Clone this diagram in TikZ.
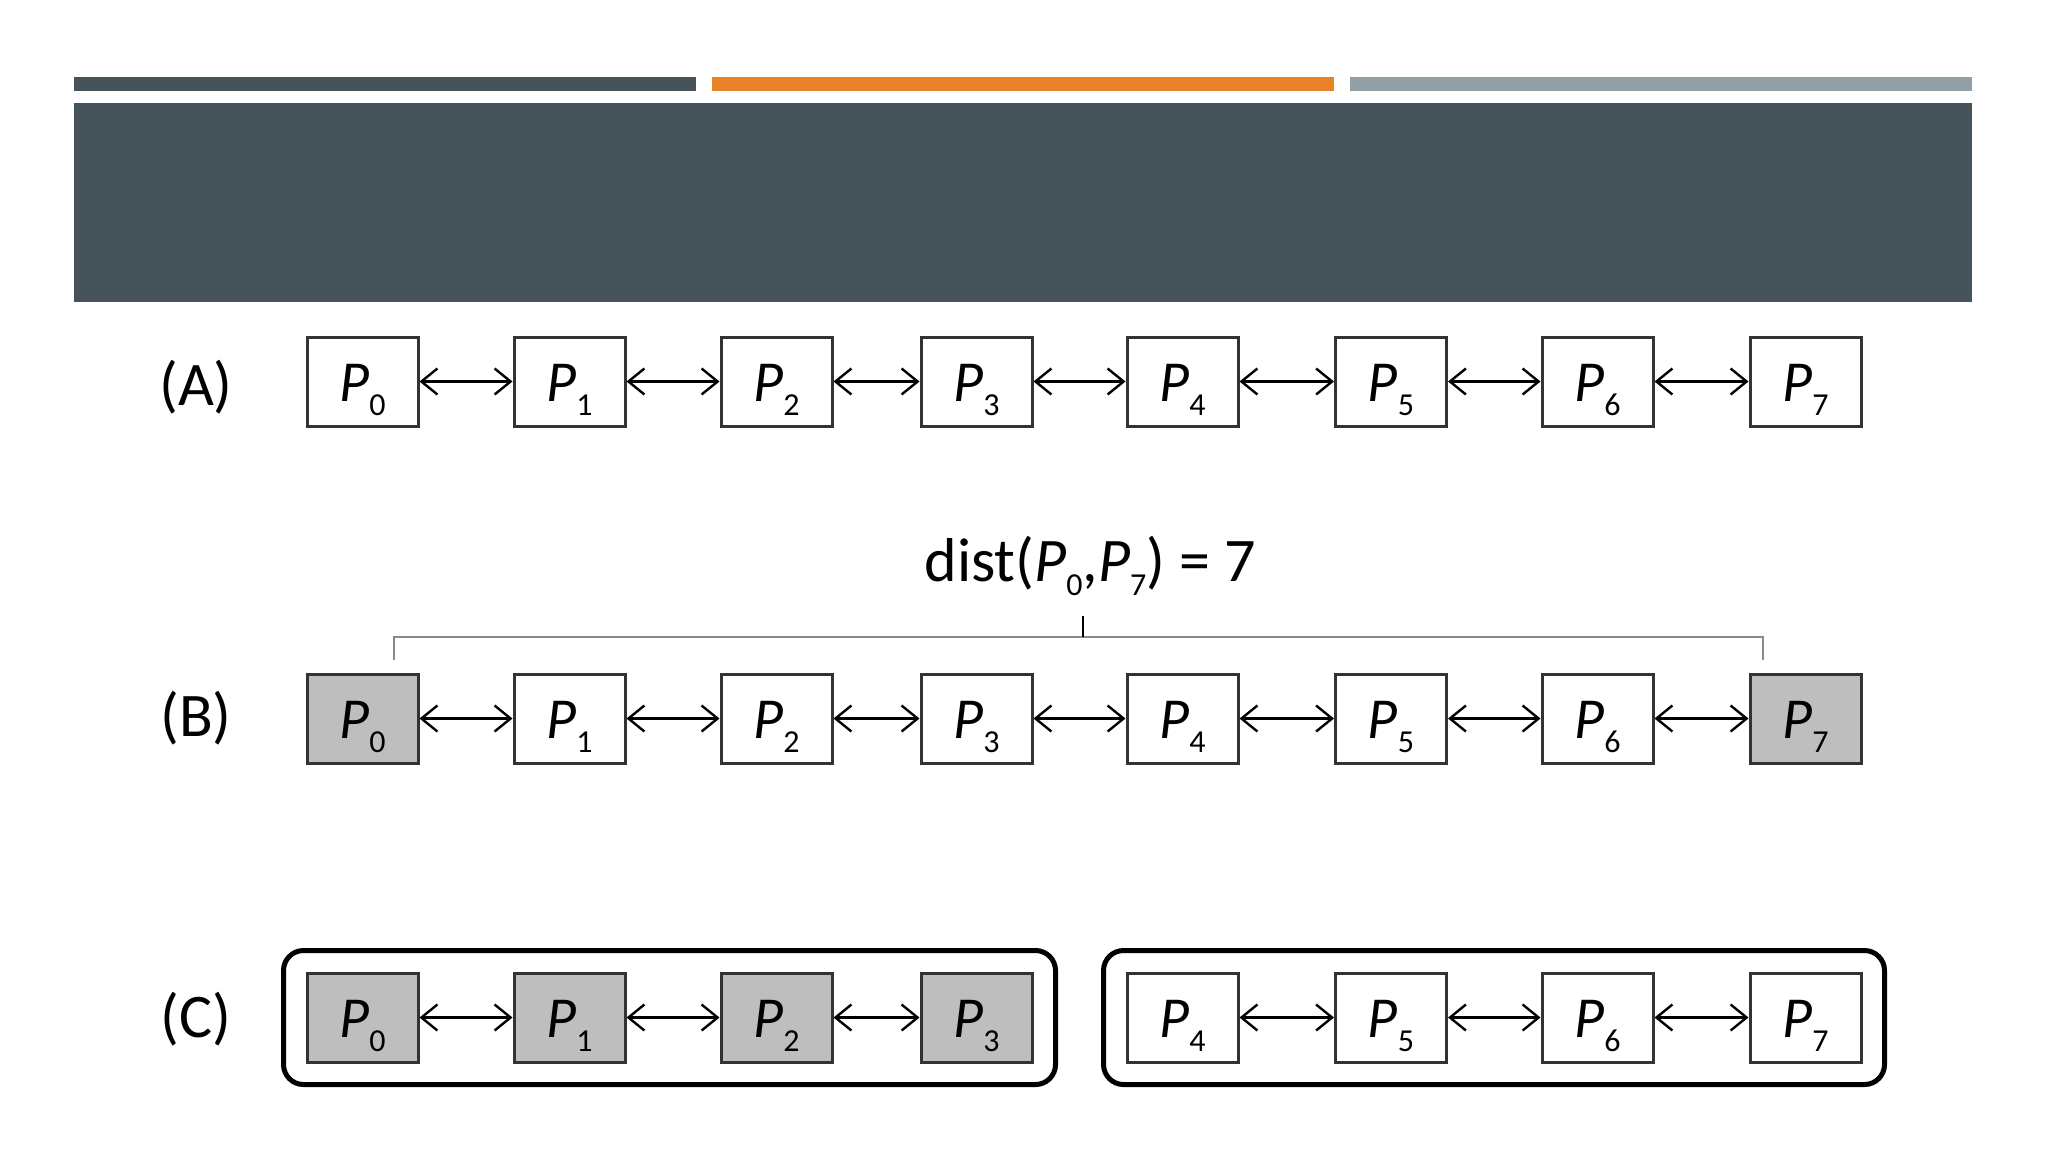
\documentclass[tikz,border=0pt]{standalone}
\usepackage{fontspec}
\setmainfont{Carlito}
\usetikzlibrary{arrows.meta,fit}
\definecolor{slate}{HTML}{47535B}
\definecolor{orangebar}{HTML}{E8832A}
\definecolor{graybar}{HTML}{939FA6}
\definecolor{boxline}{HTML}{333333}
\definecolor{boxgray}{HTML}{BEBEBE}
\definecolor{bracegray}{HTML}{8A8A8A}
\newcommand{\Psub}[1]{\textit{P}\raisebox{-7pt}{\fontsize{16}{16}\selectfont #1}}
\tikzset{
  pbox/.style={draw=boxline, line width=1.5pt, minimum width=55.5pt, minimum height=44.5pt,
    inner sep=0pt, fill=white, text height=20pt, text depth=0pt, font=\fontsize{29}{30}\selectfont},
  shaded/.style={fill=boxgray},
  conn/.style={{Straight Barb[length=8pt,width=13pt]}-{Straight Barb[length=8pt,width=13pt]}, line width=1.2pt},
  rowlabel/.style={font=\fontsize{31}{33}\selectfont, inner sep=0pt},
  group/.style={draw=black, line width=2.5pt, rounded corners=10pt, inner xsep=11pt, inner ysep=10.5pt},
}
\begin{document}
\begin{tikzpicture}[x=0.5pt,y=-0.5pt]
\useasboundingbox (0,0) rectangle (2048,1152);
\fill[white] (0,0) rectangle (2048,1152);
% header bars
\fill[slate] (74,77) rectangle (696,91);
\fill[orangebar] (712,77) rectangle (1334,91);
\fill[graybar] (1350,77) rectangle (1972,91);
\fill[slate] (74,103) rectangle (1972,302);

% Row A
\node[rowlabel] (la) at (196,387) {(A)};
\foreach \i/\x in {0/362.5,1/569.5,2/776.5,3/976.5,4/1182.5,5/1391,6/1597.5,7/1805.5}{
  \node[pbox] (a\i) at (\x,381.5) {\Psub{\i}};
}
\foreach \i [evaluate=\i as \j using int(\i+1)] in {0,...,6}{
  \draw[conn] (a\i.east) -- (a\j.west);
}

% Row B
\node[rowlabel] (lb) at (196,718) {(B)};
\foreach \i/\x in {0/362.5,1/569.5,2/776.5,3/976.5,4/1182.5,5/1391,6/1597.5,7/1805.5}{
  \node[pbox] (b\i) at (\x,718.5) {\Psub{\i}};
}
\node[pbox,shaded] at (b0) {\Psub{0}};
\node[pbox,shaded] at (b7) {\Psub{7}};
\foreach \i [evaluate=\i as \j using int(\i+1)] in {0,...,6}{
  \draw[conn] (b\i.east) -- (b\j.west);
}
% brace
\coordinate (brL) at (394,660);
\coordinate (brR) at (1763,660);
\coordinate (brM) at (1083,637);
\node[font=\fontsize{31}{33}\selectfont, inner sep=0pt] (dist) at (1090,566) {dist(\Psub{0},\Psub{7}) = 7};
\draw[bracegray, line width=1.2pt] (brL) -- (brL |- brM) -- (brR |- brM) -- (brR);
\draw[black, line width=1.2pt] (1083,616) -- (brM);

% Row C
\node[rowlabel] (lc) at (196,1019) {(C)};
\foreach \i/\x in {0/362.5,1/569.5,2/776.5,3/976.5}{
  \node[pbox,shaded] (c\i) at (\x,1017.5) {\Psub{\i}};
}
\foreach \i/\x in {4/1182.5,5/1391,6/1597.5,7/1805.5}{
  \node[pbox] (c\i) at (\x,1017.5) {\Psub{\i}};
}
\foreach \i/\j in {0/1,1/2,2/3,4/5,5/6,6/7}{
  \draw[conn] (c\i.east) -- (c\j.west);
}
\node[group, fit=(c0)(c3)] (g1) {};
\node[group, fit=(c4)(c7)] (g2) {};
\end{tikzpicture}
\end{document}
